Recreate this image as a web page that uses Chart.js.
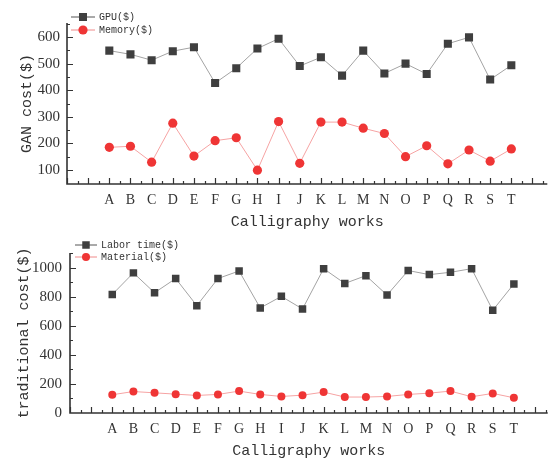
<!DOCTYPE html>
<html>
<head>
<meta charset="utf-8">
<script src="https://cdn.jsdelivr.net/npm/chart.js@4/dist/chart.umd.min.js"></script>
<style>
  html, body { margin: 0; padding: 0; background: #fff; }
  #wrap { position: relative; width: 553px; height: 459px; }
  canvas { position: absolute; left: 0; }
  #top { top: 0; }
  #bottom { top: 230px; }
</style>
</head>
<body>
<div id="wrap">
  <canvas id="top" width="553" height="230"></canvas>
  <canvas id="bottom" width="553" height="229"></canvas>
</div>
<script>
// data
const works = ['A','B','C','D','E','F','G','H','I','J','K','L','M','N','O','P','Q','R','S','T']

const gpu    = [549, 535, 513, 547, 562, 427, 483, 557, 594, 491, 524, 455, 549, 463, 500, 461, 575, 599, 440, 494]
const memory = [185, 189, 129, 276, 152, 210, 221,  99, 282, 125, 280, 280, 257, 237, 150, 191, 123, 175, 133, 179]

const laborTime = [817, 966, 829, 927, 740, 927, 979, 724, 804, 717, 995, 893, 947, 813, 982, 954, 970, 995, 708, 890]
const material  = [126, 148, 139, 130, 121, 128, 151, 128, 114, 123, 144, 110, 110, 114, 128, 137, 151, 112, 135, 105]

const ganTicks = [100, 200, 300, 400, 500, 600]
const tradTicks = [0, 200, 400, 600, 800, 1000]

const AXIS = '#333'
const TEXT = '#333'
const SERIF = "'Liberation Serif', 'DejaVu Serif', serif"
const MONO = "'Liberation Mono', 'DejaVu Sans Mono', monospace"

const points = (vals) => vals.map((v, i) => ({ x: i, y: v }))

// axes with inward major/minor ticks
const inwardAxes = {
  id: 'inwardAxes',
  afterDraw(chart, args, opts) {
    const { ctx, chartArea: a, scales: { x, y } } = chart
    ctx.save()
    ctx.strokeStyle = AXIS
    ctx.lineWidth = 1.6
    ctx.beginPath()
    ctx.moveTo(a.left, a.top)
    ctx.lineTo(a.left, a.bottom)
    ctx.lineTo(a.right, a.bottom)
    ctx.stroke()

    ctx.lineWidth = 1.2
    ctx.beginPath()
    for (let v = Math.ceil(x.min * 2) / 2; v <= x.max; v += 0.5) {
      const px = Math.round(x.getPixelForValue(v)) + 0.5
      const len = Number.isInteger(v) ? 6 : 3
      ctx.moveTo(px, a.bottom)
      ctx.lineTo(px, a.bottom - len)
    }
    for (let v = 0; v <= y.max + 1; v += opts.minor) {
      if (v < y.min + 4 * (y.max - y.min) / (a.bottom - a.top)) continue
      const py = Math.round(y.getPixelForValue(Math.min(v, y.max))) + 0.5
      const len = (v % opts.major === 0) ? 6 : 3
      ctx.moveTo(a.left, py)
      ctx.lineTo(a.left + len, py)
    }
    ctx.stroke()
    ctx.restore()
  }
}

function marker(ctx, style, x, y, r, color) {
  ctx.fillStyle = color
  ctx.beginPath()
  if (style === 'rect') {
    const s = r * Math.SQRT1_2
    ctx.rect(x - s, y - s, 2 * s, 2 * s)
  } else {
    ctx.arc(x, y, r, 0, Math.PI * 2)
  }
  ctx.fill()
}

// small legend in the upper left corner
const cornerLegend = {
  id: 'cornerLegend',
  afterDraw(chart, args, opts) {
    const { ctx } = chart
    ctx.save()
    ctx.font = '10px ' + MONO
    ctx.textBaseline = 'middle'
    chart.data.datasets.forEach((ds, i) => {
      const y = opts.y + i * opts.gap
      ctx.strokeStyle = ds.legendLine
      ctx.lineWidth = 1
      ctx.beginPath()
      ctx.moveTo(opts.x, y)
      ctx.lineTo(opts.x + opts.len, y)
      ctx.stroke()
      marker(ctx, ds.pointStyle, opts.x + opts.len / 2, y, ds.pointRadius, ds.pointBackgroundColor)
      ctx.fillStyle = TEXT
      ctx.fillText(ds.label, opts.x + opts.len + 4, y)
    })
    ctx.restore()
  }
}

function makeChart(id, cfg) {
  return new Chart(document.getElementById(id), {
    type: 'line',
    data: {
      datasets: [
        {
          label: cfg.names[0],
          data: points(cfg.series[0]),
          borderColor: '#a3a3a3',
          borderWidth: 1,
          pointStyle: 'rect',
          pointRadius: cfg.rectR,
          pointBackgroundColor: '#3f3f3f',
          pointBorderWidth: 0,
          legendLine: '#555'
        },
        {
          label: cfg.names[1],
          data: points(cfg.series[1]),
          borderColor: '#f6a3a3',
          borderWidth: 1,
          pointStyle: 'circle',
          pointRadius: cfg.dotR,
          pointBackgroundColor: '#ef3535',
          pointBorderWidth: 0,
          legendLine: '#f08a8a'
        }
      ]
    },
    options: {
      responsive: false,
      animation: false,
      layout: { padding: { top: 23, left: 0, right: 0, bottom: 0 } },
      plugins: {
        legend: { display: false },
        tooltip: { enabled: false },
        inwardAxes: { major: cfg.major, minor: cfg.major / 2 },
        cornerLegend: cfg.legend
      },
      scales: {
        x: {
          type: 'linear',
          min: -2,
          max: cfg.xMax,
          grid: { display: false, drawTicks: false },
          border: { display: false },
          afterFit(s) { s.height = 46 },
          ticks: {
            stepSize: 1,
            autoSkip: false,
            maxRotation: 0,
            includeBounds: false,
            padding: 8,
            color: TEXT,
            font: { family: SERIF, size: 14 },
            callback: (v) => Number.isInteger(v) ? (works[v] ?? '') : ''
          },
          title: {
            display: true,
            text: 'Calligraphy works',
            color: TEXT,
            font: { family: MONO, size: 15, lineHeight: 1.07 },
            padding: { top: 0, bottom: 0 }
          }
        },
        y: {
          min: cfg.yMin,
          max: cfg.yMax,
          grid: { display: false, drawTicks: false },
          border: { display: false },
          afterFit(s) { s.width = cfg.left },
          afterBuildTicks(s) { s.ticks = cfg.yTicks.map((v) => ({ value: v })) },
          ticks: {
            padding: cfg.left - cfg.labelEnd,
            color: TEXT,
            font: { family: SERIF, size: 15 },
            callback: (v) => String(v)
          },
          title: {
            display: true,
            text: cfg.yTitle,
            color: TEXT,
            font: { family: MONO, size: 15, lineHeight: 1.2 },
            padding: { top: cfg.titleX - 9, bottom: 0 }
          }
        }
      }
    },
    plugins: [inwardAxes, cornerLegend]
  })
}

makeChart('top', {
  names: ['GPU($)', 'Memory($)'],
  series: [gpu, memory],
  yTitle: 'GAN cost($)',
  yTicks: ganTicks,
  yMin: 47, yMax: 653, major: 100,
  xMax: 20.7,
  left: 67, labelEnd: 60, titleX: 27,
  rectR: 5.7, dotR: 4.6,
  legend: { x: 71, y: 17, gap: 13, len: 24 }
})

makeChart('bottom', {
  names: ['Labor time($)', 'Material($)'],
  series: [laborTime, material],
  yTitle: 'traditional cost($)',
  yTicks: tradTicks,
  yMin: 0, yMax: 1103, major: 200,
  xMax: 20.6,
  left: 70, labelEnd: 62, titleX: 24,
  rectR: 5.3, dotR: 4,
  legend: { x: 75, y: 15, gap: 12, len: 22 }
})
</script>
</body>
</html>
